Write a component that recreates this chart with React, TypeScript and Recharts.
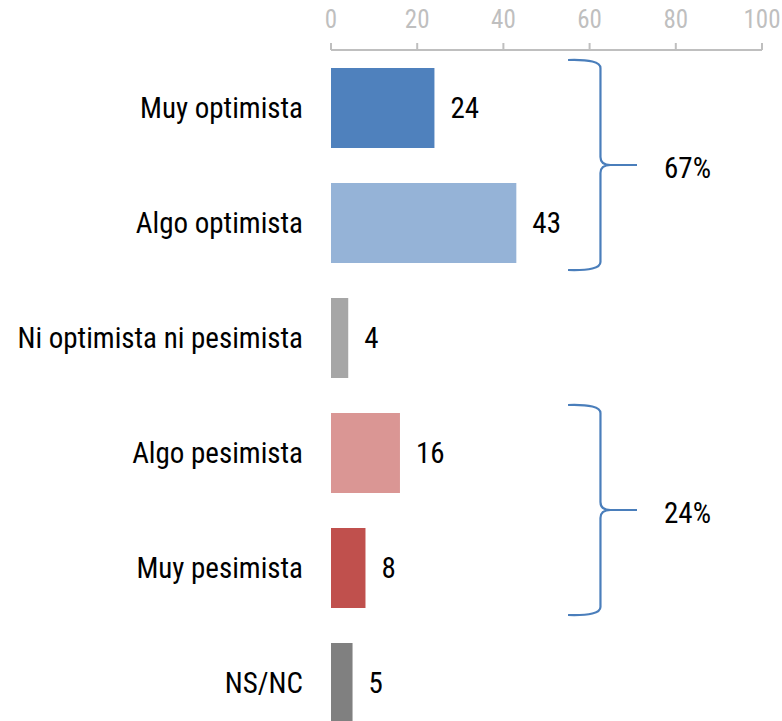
import { BarChart, Bar, XAxis, YAxis, Cell, LabelList, ReferenceArea } from 'recharts';

const categories = [
  'Muy optimista',
  'Algo optimista',
  'Ni optimista ni pesimista',
  'Algo pesimista',
  'Muy pesimista',
  'NS/NC',
];
const values = [24, 43, 4, 16, 8, 5];
const barColors = ['#4F81BD', '#95B3D7', '#A6A6A6', '#DA9694', '#C0504D', '#808080'];
const xTicks = [0, 20, 40, 60, 80, 100];

// grouped totals shown next to the braces
const groups = [
  { from: 'Muy optimista', to: 'Algo optimista', label: '67%' },
  { from: 'Algo pesimista', to: 'Muy pesimista', label: '24%' },
];

const data = categories.map((name, i) => ({ name, value: values[i] }));

const FONT = '"Roboto Condensed", "Liberation Sans Narrow", "Arial Narrow", "DejaVu Sans Condensed", Roboto, sans-serif';
const BRACE = '#4A7EBB';

const Brace = (props: any) => {
  const { x, y, width, height, label } = props;
  const top = y + 10;
  const bottom = y + height - 10;
  const mid = (top + bottom) / 2;
  const xv = x + width * 0.47;
  const tip = x + width;
  const d = [
    `M ${x} ${top}`,
    `Q ${xv} ${top - 1} ${xv} ${top + 8}`,
    `L ${xv} ${mid - 8}`,
    `Q ${xv} ${mid} ${xv + 10} ${mid}`,
    `L ${tip} ${mid}`,
    `M ${xv + 10} ${mid}`,
    `Q ${xv} ${mid} ${xv} ${mid + 8}`,
    `L ${xv} ${bottom - 8}`,
    `Q ${xv} ${bottom + 1} ${x} ${bottom}`,
  ].join(' ');
  return (
    <g>
      <path d={d} fill="none" stroke={BRACE} strokeWidth={2.2} />
      <text
        x={tip + 27}
        y={mid + 5}
        dominantBaseline="middle"
        fontFamily={FONT}
        fontSize={29}
        fill="#000"
      >
        {label}
      </text>
    </g>
  );
};

export default function App() {
  return (
    <div
      style={{
        position: 'fixed',
        top: 0,
        left: 0,
        width: 782,
        height: 721,
        overflow: 'hidden',
        background: '#fff',
        fontFamily: FONT,
      }}
    >
      <BarChart
        width={782}
        height={740}
        data={data}
        layout="vertical"
        margin={{ top: 8, right: 20, bottom: 0, left: 8 }}
        barSize={80}
      >
        <XAxis
          type="number"
          orientation="top"
          domain={[0, 100]}
          ticks={xTicks}
          height={42}
          axisLine={{ stroke: '#BFBFBF', strokeWidth: 2 }}
          tickLine={{ stroke: '#BFBFBF', strokeWidth: 2 }}
          tickSize={7}
          tickMargin={15}
          tick={{ fill: '#BFBFBF', fontSize: 25, fontFamily: FONT }}
          interval={0}
        />
        <YAxis
          type="category"
          dataKey="name"
          width={323}
          axisLine={false}
          tickLine={false}
          tickSize={0}
          tickMargin={28}
          tick={{ fill: '#000', fontSize: 29, fontFamily: FONT }}
          interval={0}
        />
        <Bar dataKey="value" isAnimationActive={false}>
          {data.map((d, i) => (
            <Cell key={d.name} fill={barColors[i]} />
          ))}
          <LabelList
            dataKey="value"
            position="right"
            offset={16}
            fill="#000"
            fontSize={29}
            fontFamily={FONT}
          />
        </Bar>
        {groups.map((g) => (
          <ReferenceArea
            key={g.label}
            y1={g.from}
            y2={g.to}
            x1={55}
            x2={71}
            ifOverflow="visible"
            shape={(p: any) => <Brace {...p} label={g.label} />}
          />
        ))}
      </BarChart>
    </div>
  );
}
